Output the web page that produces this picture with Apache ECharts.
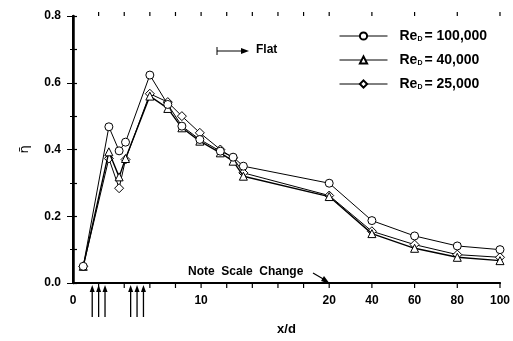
<!DOCTYPE html>
<html>
<head>
<meta charset="utf-8">
<script src="https://cdn.jsdelivr.net/npm/echarts@6/dist/echarts.min.js"></script>
<style>
  html, body { margin: 0; padding: 0; background: #fff; }
  #main { width: 513px; height: 341px; }
</style>
</head>
<body>
<div id="main"></div>
<script>
// x/d positions and film effectiveness
var xd = [0.8, 2.8, 3.6, 4.1, 6.0, 7.4, 8.5, 9.9, 11.5, 12.5, 13.3, 20, 40, 60, 80, 100];
var eta_100k = [0.05, 0.468, 0.396, 0.422, 0.623, 0.535, 0.47, 0.43, 0.395, 0.377, 0.35, 0.299, 0.187, 0.141, 0.111, 0.100];
var eta_40k  = [0.05, 0.393, 0.318, 0.373, 0.560, 0.523, 0.465, 0.425, 0.39, 0.365, 0.32, 0.259, 0.148, 0.104, 0.077, 0.067];
var eta_25k  = [0.05, 0.373, 0.284, 0.370, 0.567, 0.542, 0.500, 0.450, 0.40, 0.375, 0.33, 0.262, 0.155, 0.115, 0.085, 0.077];

// arrows under the axis (hole positions)
var holeX = [1.5, 2, 2.5, 4.5, 5, 5.5];

var xLabels = [0, 10, 20, 40, 60, 80, 100];
var xTicks = [2, 4, 6, 8, 10, 12, 14, 16, 18, 20, 40, 60, 80, 100];

// scale changes at 20: beyond it one unit is 1/6 as wide
function fwd(x) { return x <= 20 ? x : 20 + (x - 20) / 6; }
function inv(u) { return u <= 20 ? u : 20 + (u - 20) * 6; }

function pairs(ys) {
    return xd.map(function (x, i) { return [fwd(x), ys[i]]; });
}

var FONT = 'Liberation Sans';
var myChart = echarts.init(document.getElementById('main'));

var option = {
    animation: false,
    backgroundColor: '#fff',
    grid: { left: 73, right: 12, top: 16, bottom: 55 },
    legend: {
        data: ['a', 'b', 'c'],
        orient: 'vertical',
        left: 334,
        top: 24,
        itemWidth: 48,
        itemHeight: 9,
        itemGap: 10,
        lineStyle: { width: 1 },
        formatter: function (name) {
            var v = { a: '100,000', b: '40,000', c: '25,000' }[name];
            return '{t|Re}{s|D}{t|= ' + v + '}';
        },
        textStyle: {
            padding: [0, 0, 0, 7],
            rich: {
                t: { fontFamily: FONT, fontWeight: 'bold', fontSize: 14, color: '#000' },
                s: { fontFamily: FONT, fontWeight: 'bold', fontSize: 7, color: '#000', verticalAlign: 'bottom', padding: [5, 2, 0, 0] }
            }
        }
    },
    xAxis: [
        {
            type: 'value',
            position: 'bottom',
            min: 0,
            max: fwd(100),
            splitLine: { show: false },
            axisLine: { lineStyle: { color: '#000', width: 2 } },
            axisTick: { show: false },
            name: 'x/d',
            nameLocation: 'middle',
            nameGap: 40,
            nameTextStyle: { fontFamily: FONT, fontWeight: 'bold', fontSize: 13, color: '#000' },
            axisLabel: {
                customValues: xLabels.map(fwd),
                margin: 12,
                fontFamily: FONT, fontWeight: 'bold', fontSize: 12, color: '#000',
                formatter: function (v) { return Math.round(inv(v)); }
            }
        },
        {
            type: 'value',
            position: 'top',
            min: 0,
            max: fwd(100),
            splitLine: { show: false },
            axisLine: { lineStyle: { color: '#000', width: 1.5 } },
            axisTick: { show: false },
            axisLabel: { show: false }
        }
    ],
    yAxis: [
        {
            type: 'value',
            min: 0, max: 0.8, interval: 0.2,
            name: 'η̄',
            nameLocation: 'middle',
            nameGap: 42,
            nameRotate: 90,
            nameTextStyle: { fontFamily: 'DejaVu Sans', fontSize: 13, color: '#000' },
            splitLine: { show: false },
            axisLine: { show: true, lineStyle: { color: '#000', width: 2 } },
            axisTick: { length: 6, lineStyle: { color: '#000' } },
            minorTick: { show: true, splitNumber: 2, length: 3, lineStyle: { color: '#000' } },
            axisLabel: {
                margin: 12,
                fontFamily: FONT, fontWeight: 'bold', fontSize: 12, color: '#000',
                formatter: function (v) { return v.toFixed(1); }
            }
        },
        {
            type: 'value',
            position: 'right',
            min: 0, max: 0.8, interval: 0.1,
            splitLine: { show: false },
            axisLine: { show: true, lineStyle: { color: '#000', width: 2.5 } },
            axisTick: { length: 4, lineStyle: { color: '#000', width: 1.2 } },
            axisLabel: { show: false }
        }
    ],
    series: [
        {
            name: 'c', type: 'line', data: pairs(eta_25k),
            symbol: 'diamond', symbolSize: 9, z: 3,
            itemStyle: { color: '#fff', borderColor: '#000', borderWidth: 1 },
            lineStyle: { color: '#000', width: 1 }
        },
        {
            name: 'b', type: 'line', data: pairs(eta_40k),
            symbol: 'triangle', symbolSize: 8, z: 4,
            itemStyle: { color: '#fff', borderColor: '#000', borderWidth: 1 },
            lineStyle: { color: '#000', width: 1.4 }
        },
        {
            name: 'a', type: 'line', data: pairs(eta_100k),
            symbol: 'circle', symbolSize: 8, z: 5,
            itemStyle: { color: '#fff', borderColor: '#000', borderWidth: 1 },
            lineStyle: { color: '#000', width: 1 }
        },
        {
            // x-axis ticks, bottom and top, placed through the x scale
            type: 'custom',
            data: xTicks.map(function (x) { return [fwd(x), 0]; }),
            clip: false,
            silent: true,
            z: 10,
            renderItem: function (params, api) {
                var b = api.coord([api.value(0), 0]);
                var t = api.coord([api.value(0), 0.8]);
                return {
                    type: 'group',
                    children: [
                        { type: 'line', shape: { x1: b[0], y1: b[1], x2: b[0], y2: b[1] + 5 },
                          style: { stroke: '#000', lineWidth: 1.2 } },
                        { type: 'line', shape: { x1: t[0], y1: t[1], x2: t[0], y2: t[1] - 4 },
                          style: { stroke: '#000', lineWidth: 1.2 } }
                    ]
                };
            }
        },
        {
            type: 'custom',
            data: holeX.map(function (x) { return [fwd(x), 0]; }),
            clip: false,
            silent: true,
            renderItem: function (params, api) {
                var p = api.coord([api.value(0), 0]);
                return {
                    type: 'group',
                    children: [
                        { type: 'line', shape: { x1: p[0], y1: p[1] + 6, x2: p[0], y2: p[1] + 34 },
                          style: { stroke: '#000', lineWidth: 1.3 } },
                        { type: 'polygon', shape: { points: [[p[0], p[1] + 2], [p[0] - 2.5, p[1] + 9], [p[0] + 2.5, p[1] + 9]] },
                          style: { fill: '#000' } }
                    ]
                };
            }
        }
    ],
    graphic: [
        // "Flat" arrow
        { type: 'line', shape: { x1: 217, y1: 51, x2: 243, y2: 51 }, style: { stroke: '#000', lineWidth: 1 } },
        { type: 'line', shape: { x1: 217, y1: 47, x2: 217, y2: 55 }, style: { stroke: '#000', lineWidth: 1 } },
        { type: 'polygon', shape: { points: [[249, 51], [241, 48], [241, 54]] }, style: { fill: '#000' } },
        { type: 'text', left: 256, top: 44, style: { text: 'Flat', font: 'bold 12px "Liberation Sans"', fill: '#000' } },
        // scale change note
        { type: 'text', left: 188, top: 266, style: { text: 'Note  Scale  Change', font: 'bold 12px "Liberation Sans"', fill: '#000' } },
        { type: 'line', shape: { x1: 313, y1: 273, x2: 325, y2: 280 }, style: { stroke: '#000', lineWidth: 1.2 } },
        { type: 'polygon', shape: { points: [[330, 284], [321, 281], [324, 276]] }, style: { fill: '#000' } }
    ]
};

myChart.setOption(option);
</script>
</body>
</html>
